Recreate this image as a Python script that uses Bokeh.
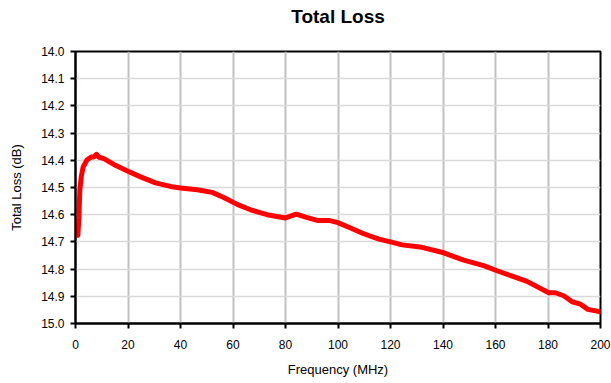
from bokeh.plotting import figure
from bokeh.models import Range1d, FixedTicker, PrintfTickFormatter, Title
from bokeh.embed import file_html
from bokeh.resources import INLINE

# Data
freq_mhz = [0.9, 1.3, 1.65, 2.2, 2.9, 4.4, 6.0, 7.0, 8.0, 8.9, 10.8, 14.6, 20.0, 24.8,
            30.5, 36.2, 40.0, 46.4, 52.1, 56.5, 61.6, 66.7, 73.0, 80.0, 84.1, 88.3,
            92.1, 96.5, 100.0, 104.8, 109.8, 115.6, 120.0, 124.4, 132.0, 140.3, 147.9,
            155.5, 160.6, 166.9, 172.0, 180.3, 182.8, 186.0, 189.2, 192.4, 195.2, 200.0]
total_loss_db = [14.676, 14.61, 14.51, 14.46, 14.425, 14.398, 14.388, 14.388, 14.378,
                 14.388, 14.394, 14.415, 14.44, 14.461, 14.483, 14.496, 14.502, 14.508,
                 14.518, 14.537, 14.562, 14.582, 14.600, 14.612, 14.598, 14.611, 14.621,
                 14.621, 14.629, 14.649, 14.670, 14.690, 14.700, 14.711, 14.720, 14.740,
                 14.767, 14.787, 14.806, 14.828, 14.845, 14.887, 14.887, 14.898, 14.920,
                 14.929, 14.948, 14.957]
x_ticks = [0, 20, 40, 60, 80, 100, 120, 140, 160, 180, 200]
y_ticks = [14.0, 14.1, 14.2, 14.3, 14.4, 14.5, 14.6, 14.7, 14.8, 14.9, 15.0]
title_text = "Total Loss"

FONT = "Liberation Sans"

p = figure(width=611, height=383, output_backend="svg", toolbar_location=None,
           x_range=Range1d(0, 200), y_range=Range1d(15.0, 14.0), title=None,
           min_border_left=75, min_border_right=11, min_border_top=51, min_border_bottom=60)

# spacer (closest to the frame), then the real title above it
p.add_layout(Title(text=" ", text_font_size="1px", standoff=18), "above")
p.add_layout(Title(text=title_text, align="center", vertical_align="top", standoff=4,
                   text_font=FONT, text_font_size="19px", text_font_style="bold",
                   text_color="black"), "above")

p.background_fill_color = "white"
p.border_fill_color = "white"
p.outline_line_color = "black"
p.outline_line_width = 2

p.line(freq_mhz, total_loss_db, line_color="#ff0000", line_width=5, line_join="round", line_cap="round")

p.xaxis.ticker = FixedTicker(ticks=x_ticks)
p.yaxis.ticker = FixedTicker(ticks=y_ticks)
p.yaxis.formatter = PrintfTickFormatter(format="%.1f")

for ax in (p.xaxis, p.yaxis):
    ax.axis_line_color = "black"
    ax.axis_line_width = 2
    ax.major_tick_line_color = "black"
    ax.major_tick_line_width = 2
    ax.major_tick_out = 5
    ax.major_tick_in = 0
    ax.minor_tick_line_color = None
    ax.major_label_text_font = FONT
    ax.major_label_text_font_size = "12px"
    ax.major_label_text_color = "black"
    ax.axis_label_text_font = FONT
    ax.axis_label_text_font_size = "13px"
    ax.axis_label_text_font_style = "normal"
    ax.axis_label_text_color = "black"

p.xaxis.axis_label = "Frequency (MHz)"
p.yaxis.axis_label = "Total Loss (dB)"
p.xaxis.major_label_standoff = 11
p.xaxis.axis_label_standoff = 10
p.yaxis.major_label_standoff = 6
p.yaxis.axis_label_standoff = 14

p.xgrid.ticker = FixedTicker(ticks=x_ticks)
p.ygrid.ticker = FixedTicker(ticks=y_ticks)
p.xgrid.grid_line_color = "#c0c0c0"
p.xgrid.grid_line_width = 2
p.ygrid.grid_line_color = "#d9d9d9"
p.ygrid.grid_line_width = 1.5

open("out.html", "w").write(file_html(p, INLINE))
